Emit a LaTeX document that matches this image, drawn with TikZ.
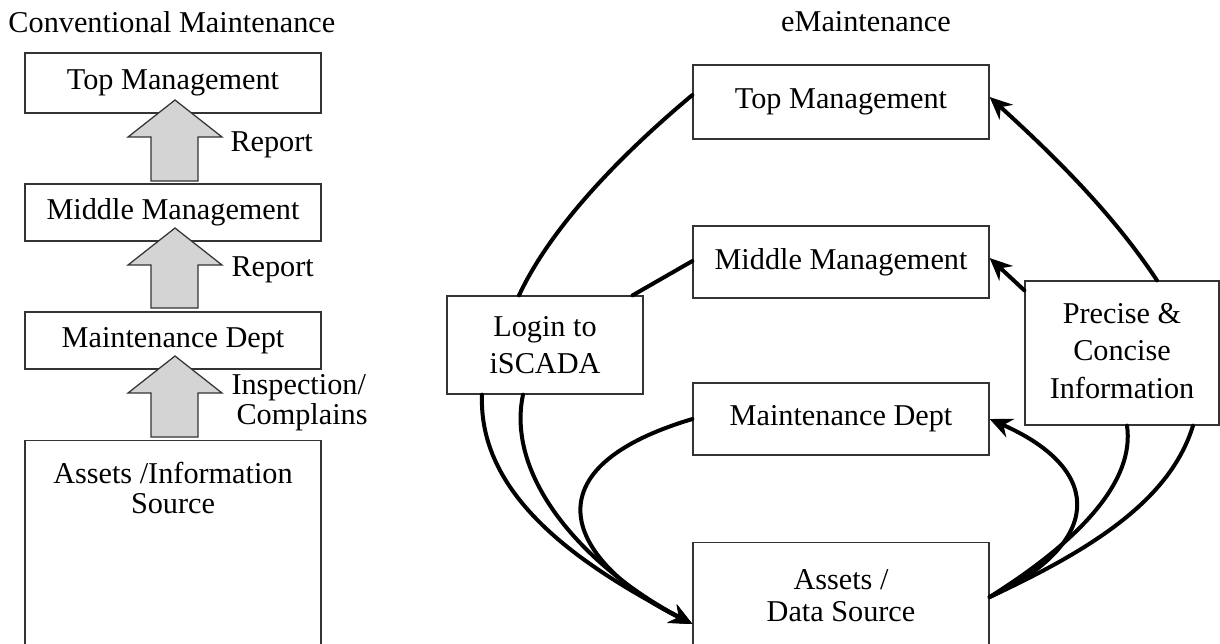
\documentclass[tikz,border=0pt]{standalone}
\usepackage{fontspec}
\setmainfont{Liberation Serif}
\usepackage{tikz}
\usetikzlibrary{arrows.meta}

\begin{document}
\begin{tikzpicture}[x=0.4pt, y=-0.4pt, font=\fontsize{12.1}{14.5}\selectfont]

% Set the overall frame of the picture
\useasboundingbox (0,0) rectangle (1220,643);

% Define styles for boxes, block arrows and links
\tikzstyle{caja} = [draw=black!80, line width=0.5pt, inner sep=0pt, align=center]
\tikzstyle{flecha} = [draw=black!80, line width=0.5pt, fill=black!17]
\tikzstyle{enlace} = [line width=1.6pt, line cap=round]
\tikzstyle{punta} = [enlace, -{Stealth[length=9pt, width=8pt, inset=3pt]}]
\tikzstyle{etiqueta} = [anchor=west, inner sep=0pt, align=left]

%Titulos
\node[anchor=west, inner sep=0pt] (tconv) at (8,22) {Conventional Maintenance};
\node[inner sep=0pt] (temain) at (866,22) {eMaintenance};

%Mantenimiento convencional
\node[caja, minimum width=118.4pt, minimum height=24pt] (ctop) at (173,83) {Top Management};
\node[caja, minimum width=118.4pt, minimum height=22.8pt] (cmid) at (173,212.5) {Middle Management};
\node[caja, minimum width=118.4pt, minimum height=22.8pt] (cmaint) at (173,340.5) {Maintenance Dept};
\node[caja, minimum width=118.4pt, minimum height=90pt, anchor=north] (cassets) at (173,440) {};
\node[align=center, inner sep=0pt, font=\fontsize{12.1}{12}\selectfont] (cassetstxt) at (173,488) {Assets /Information\\Source};

\draw[flecha] (175,100) -- (222,137) -- (198,137) -- (198,181) -- (151,181) -- (151,137) -- (128,137) -- cycle;
\draw[flecha] (175,228) -- (222,265) -- (198,265) -- (198,308) -- (151,308) -- (151,265) -- (128,265) -- cycle;
\draw[flecha] (175,356) -- (222,393) -- (198,393) -- (198,437) -- (151,437) -- (151,393) -- (128,393) -- cycle;

\node[etiqueta] (rep1) at (230,145) {Report};
\node[etiqueta] (rep2) at (231,270) {Report};
\node[etiqueta, font=\fontsize{12.1}{12}\selectfont] (insp) at (231,403) {Inspection/\\\hspace*{2pt}Complains};

%eMantenimiento
\node[caja, minimum width=118.4pt, minimum height=29.6pt] (etop) at (841,102) {Top Management};
\node[caja, minimum width=118.4pt, minimum height=28.8pt] (emid) at (841,262) {Middle Management};
\node[caja, minimum width=118.4pt, minimum height=28.8pt] (emaint) at (841,419) {Maintenance Dept};
\node[caja, minimum width=118.4pt, minimum height=90pt, anchor=north] (eassets) at (841,542) {};
\node[align=center, inner sep=0pt, font=\fontsize{12.1}{12.8}\selectfont] (eassetstxt) at (841,596) {Assets /\\Data Source};
\node[caja, minimum width=78.4pt, minimum height=39.2pt] (login) at (545,345) {Login to\\iSCADA};
\node[caja, minimum width=77.6pt, minimum height=57.6pt, font=\fontsize{12.1}{15}\selectfont] (precise) at (1122,353) {\raisebox{2pt}{Precise \&}\\\raisebox{2pt}{Concise}\\\raisebox{2pt}{Information}};

% Enlaces de la izquierda
\draw[enlace] ([xshift=-10.4pt]login.north) .. controls +(35,-75) and +(-60,50) .. ([yshift=2.8pt]etop.west);
\draw[enlace] ([xshift=35pt]login.north) -- ([yshift=0.4pt]emid.west);
\draw[punta] ([xshift=-25.2pt]login.south) .. controls +(-4,106) and +(-103,-54) .. ([yshift=-32.8pt]eassets.north west);
\draw[punta] ([xshift=-8.8pt]login.south) .. controls +(-18,86) and +(-103,-54) .. ([yshift=-32.8pt]eassets.north west);
\draw[punta] (emaint.west) .. controls +(-174,52) and +(-119,-59) .. ([yshift=-32.8pt]eassets.north west);

% Enlaces de la derecha
\draw[punta] ([yshift=-22pt]eassets.north east) .. controls +(111,-52) and +(118,52) .. (emaint.east);
\draw[enlace] ([yshift=-22pt]eassets.north east) .. controls +(91,-57) and +(8,55) .. ([xshift=2pt]precise.south);
\draw[enlace] ([yshift=-22pt]eassets.north east) .. controls +(101,-47) and +(-23,75) .. ([xshift=28.4pt]precise.south);
\draw[punta] ([xshift=14pt]precise.north) .. controls +(-47,-71) and +(58,53) .. ([yshift=2pt]etop.east);
\draw[punta] ([yshift=-4pt]precise.north west) -- ([yshift=1.6pt]emid.east);

\end{tikzpicture}
\end{document}
